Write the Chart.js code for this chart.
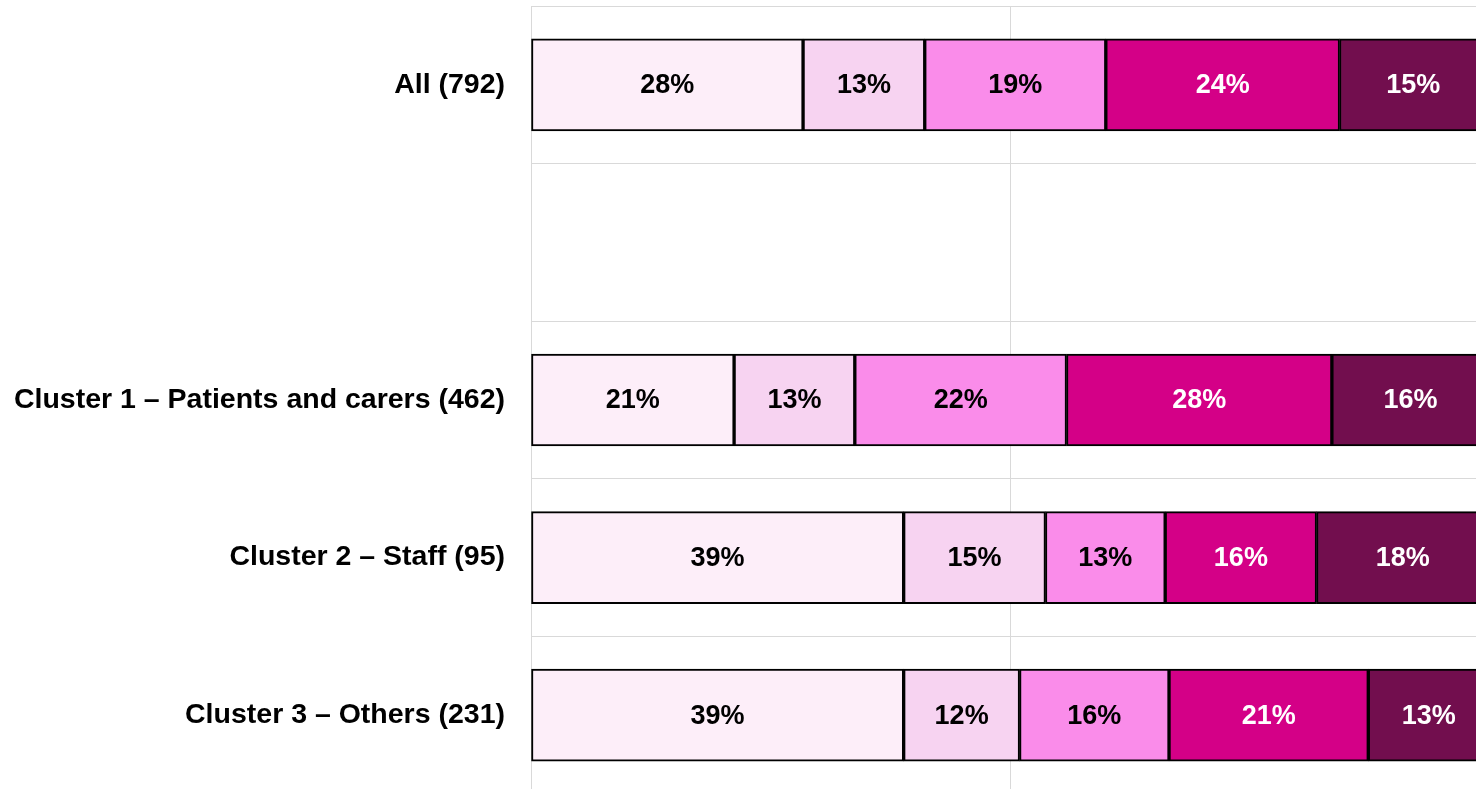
<!DOCTYPE html>
<html>
<head>
<meta charset="utf-8">
<script src="https://cdn.jsdelivr.net/npm/chart.js@4/dist/chart.umd.min.js"></script>
<style>
    html, body { margin: 0; padding: 0; background: #fff; overflow: hidden; }
    #chart { display: block; }
</style>
</head>
<body>
<canvas id="chart" width="1490" height="795"></canvas>
<script>
// ===============================
// DATA
// ===============================
const categories = [
    "All (792)",
    "",
    "Cluster 1 \u2013 Patients and carers (462)",
    "Cluster 2 \u2013 Staff (95)",
    "Cluster 3 \u2013 Others (231)"
];

const seriesNames = ["Band 1", "Band 2", "Band 3", "Band 4", "Band 5"];

// one value per category, the empty row has no bar
const band1 = [28.4, null, 21.2, 38.9, 38.9];
const band2 = [12.7, null, 12.6, 14.8, 12.1];
const band3 = [18.9, null, 22.1, 12.5, 15.6];
const band4 = [24.4, null, 27.7, 15.8, 20.8];
const band5 = [15.4, null, 16.4, 18.0, 12.6];

const xTicks = [0, 50, 100];

const barColors = ["#FDEEF9", "#F7D3F1", "#FA8CEA", "#D40087", "#720E4E"];
const labelColors = ["#000000", "#000000", "#000000", "#ffffff", "#ffffff"];

const fontFamily = "'Liberation Sans', Arial, sans-serif";

// ===============================
// VALUE LABELS INSIDE BARS
// ===============================
const barLabels = {
    id: "barLabels",
    afterDatasetsDraw(chart) {
        const ctx = chart.ctx;
        ctx.save();
        ctx.font = "bold 27px " + fontFamily;
        ctx.textAlign = "center";
        ctx.textBaseline = "middle";
        chart.data.datasets.forEach((ds, i) => {
            const meta = chart.getDatasetMeta(i);
            meta.data.forEach((bar, j) => {
                const v = ds.data[j];
                if (v == null) return;
                const p = bar.getProps(["x", "y", "base"], true);
                ctx.fillStyle = labelColors[i];
                ctx.fillText(Math.round(v) + "%", (p.x + p.base) / 2, p.y + 1);
            });
        });
        ctx.restore();
    }
};

const allSeries = [band1, band2, band3, band4, band5];

const chart = new Chart(document.getElementById("chart"), {
    type: "bar",
    data: {
        labels: categories,
        datasets: allSeries.map((vals, i) => ({
            label: seriesNames[i],
            data: vals,
            backgroundColor: barColors[i],
            borderColor: "#000000",
            borderWidth: 2,
            borderSkipped: false,
            barThickness: 92
        }))
    },
    options: {
        indexAxis: "y",
        responsive: false,
        animation: false,
        layout: { padding: { top: 6, right: 1, bottom: 1, left: 0 } },
        plugins: {
            legend: { display: false },
            tooltip: { enabled: false }
        },
        scales: {
            x: {
                stacked: true,
                min: 0,
                max: 100,
                afterBuildTicks: scale => {
                    scale.ticks = xTicks.map(v => ({ value: v }));
                },
                afterFit: scale => { scale.height = 0; },
                ticks: { display: false },
                grid: { color: "#d9d9d9", lineWidth: 1, drawTicks: false },
                border: { display: false }
            },
            y: {
                stacked: true,
                afterFit: scale => {
                    scale.width = 531;
                    scale.paddingTop = 0;
                    scale.paddingBottom = 0;
                },
                ticks: {
                    color: "#000000",
                    padding: 26,
                    font: { family: fontFamily, size: 28.5, weight: "bold" }
                },
                grid: { color: "#d9d9d9", lineWidth: 1, drawTicks: false, offset: true },
                border: { display: false }
            }
        }
    },
    plugins: [barLabels]
});
</script>
</body>
</html>
